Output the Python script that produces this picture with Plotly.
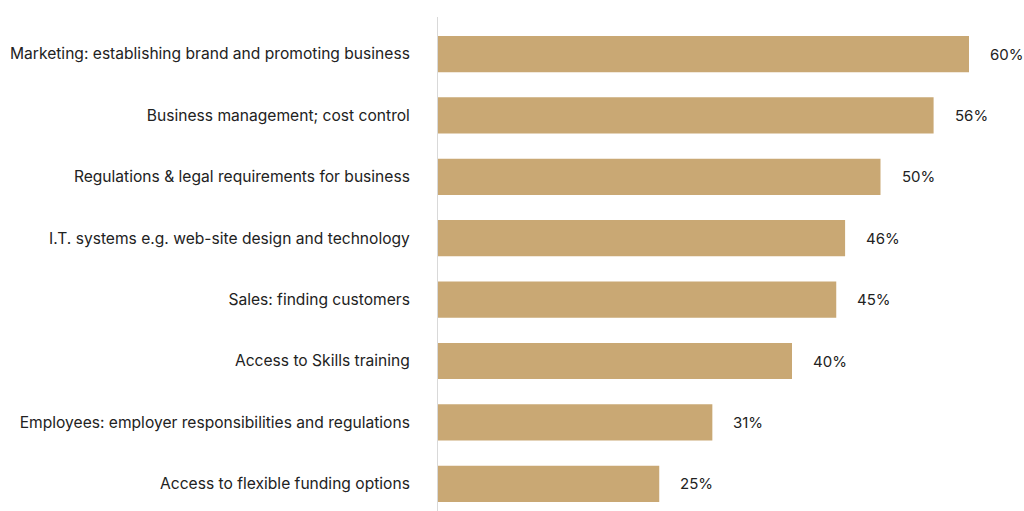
import plotly.graph_objects as go

categories = [
    "Marketing: establishing brand and promoting business",
    "Business management; cost control",
    "Regulations & legal requirements for business",
    "I.T. systems e.g. web-site design and technology",
    "Sales: finding customers",
    "Access to Skills training",
    "Employees: employer responsibilities and regulations",
    "Access to flexible funding options",
]
values = [60, 56, 50, 46, 45, 40, 31, 25]
value_labels = [f"{v}%" for v in values]

BAR_COLOR = "#C9A874"
TEXT_COLOR = "#222222"
FONT = "Inter"

fig = go.Figure(
    go.Bar(
        x=values,
        y=categories,
        orientation="h",
        marker=dict(color=BAR_COLOR, line=dict(width=0)),
        width=0.59,
        hoverinfo="skip",
    )
)

for cat, v, lab in zip(categories, values, value_labels):
    fig.add_annotation(
        x=v, y=cat, text=lab, showarrow=False,
        xanchor="left", xshift=19,
        font=dict(family=FONT, size=15, color=TEXT_COLOR),
    )

fig.update_layout(
    width=1024, height=511,
    margin=dict(l=438, r=0, t=17, b=0),
    paper_bgcolor="white", plot_bgcolor="white",
    showlegend=False,
    font=dict(family=FONT, size=15, color=TEXT_COLOR),
    xaxis=dict(range=[0, 586 / 8.85], visible=False, fixedrange=True),
    yaxis=dict(
        type="category",
        categoryorder="array", categoryarray=categories,
        range=[7.443, -0.603],
        showline=True, linecolor="#d9d9d9", linewidth=1,
        showgrid=False, ticks="", ticklabelstandoff=24,
        tickfont=dict(family=FONT, size=15.6, color=TEXT_COLOR),
        fixedrange=True,
    ),
)

fig.write_html("out.html")
